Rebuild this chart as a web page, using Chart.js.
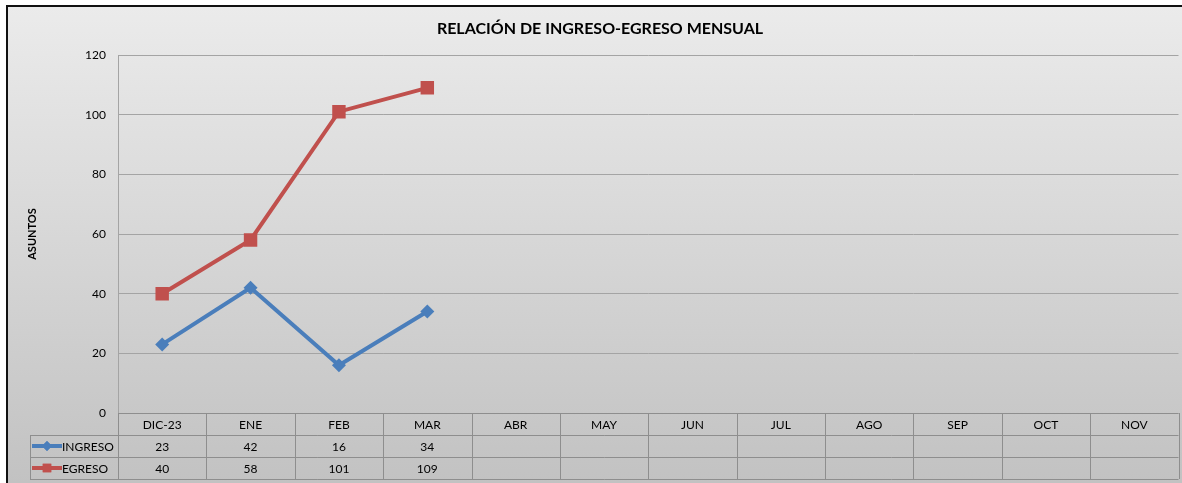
<!DOCTYPE html>
<html>
<head>
<meta charset="utf-8">
<script src="https://cdn.jsdelivr.net/npm/chart.js@4"></script>
<style>
  html, body { margin: 0; padding: 0; background: #fff; overflow: hidden; }
  #wrap { width: 1182px; height: 483px; overflow: hidden; }
  canvas { display: block; }
</style>
</head>
<body>
<div id="wrap"><canvas id="myChart" width="1188" height="483"></canvas></div>
<script>
var months = ['DIC-23','ENE','FEB','MAR','ABR','MAY','JUN','JUL','AGO','SEP','OCT','NOV'];
var ingreso = [23, 42, 16, 34, null, null, null, null, null, null, null, null];
var egreso = [40, 58, 101, 109, null, null, null, null, null, null, null, null];
var yTicks = [0, 20, 40, 60, 80, 100, 120];

var titleText = 'RELACIÓN DE INGRESO-EGRESO MENSUAL';
var blue = '#4A7EBB';
var red = '#C0504D';
var lineGray = '#8e8e8e';
var fontName = 'Lato, "Open Sans", sans-serif';

// background, frame and title
var backPlugin = {
  id: 'back',
  beforeDraw: function(chart) {
    var ctx = chart.ctx;
    ctx.save();
    var g = ctx.createLinearGradient(0, 7, 0, 483);
    g.addColorStop(0, '#ebebeb');
    g.addColorStop(1, '#c2c2c2');
    ctx.fillStyle = g;
    ctx.fillRect(8, 7, chart.width - 8, 476);
    ctx.strokeStyle = '#111';
    ctx.lineWidth = 2;
    ctx.beginPath();
    ctx.moveTo(7, 483);
    ctx.lineTo(7, 6);
    ctx.lineTo(chart.width, 6);
    ctx.stroke();
    ctx.fillStyle = '#000';
    ctx.font = 'bold 16px ' + fontName;
    ctx.textAlign = 'center';
    ctx.textBaseline = 'middle';
    ctx.fillText(titleText, 600, 29);
    ctx.restore();
  }
};

// data table under the plot
var tablePlugin = {
  id: 'dataTable',
  afterDraw: function(chart) {
    var ctx = chart.ctx;
    var x = chart.scales.x;
    var area = chart.chartArea;
    var colW = (area.right - area.left) / months.length;
    var rowH = 22;
    var top = area.bottom;
    var legendLeft = 30;
    ctx.save();
    ctx.strokeStyle = lineGray;
    ctx.lineWidth = 1;
    ctx.beginPath();
    ctx.moveTo(area.left, top + 0.5); ctx.lineTo(area.right, top + 0.5);
    for (var r = 1; r <= 3; r++) {
      var yy = Math.round(top + r * rowH) + 0.5;
      ctx.moveTo(legendLeft, yy); ctx.lineTo(area.right, yy);
    }
    for (var c = 0; c <= months.length; c++) {
      var xx = Math.round(area.left + c * colW) + 0.5;
      ctx.moveTo(xx, top); ctx.lineTo(xx, top + 3 * rowH);
    }
    ctx.moveTo(legendLeft + 0.5, top + rowH); ctx.lineTo(legendLeft + 0.5, top + 3 * rowH);
    ctx.stroke();

    ctx.fillStyle = '#000';
    ctx.font = '12px ' + fontName;
    ctx.textAlign = 'center';
    ctx.textBaseline = 'middle';
    months.forEach(function(m, i) {
      var cx = x.getPixelForValue(i);
      ctx.fillText(m, cx, top + rowH / 2 + 1);
      if (ingreso[i] != null) ctx.fillText(String(ingreso[i]), cx, top + rowH * 1.5 + 1);
      if (egreso[i] != null) ctx.fillText(String(egreso[i]), cx, top + rowH * 2.5 + 1);
    });

    // legend keys in the first column
    var keys = [
      {label: 'INGRESO', color: blue, style: 'rectRot', radius: 5},
      {label: 'EGRESO', color: red, style: 'rect', radius: 6}
    ];
    keys.forEach(function(k, j) {
      var cy = top + rowH * (j + 1.5);
      ctx.strokeStyle = k.color;
      ctx.lineWidth = 4;
      ctx.beginPath();
      ctx.moveTo(32, cy); ctx.lineTo(62, cy);
      ctx.stroke();
      ctx.fillStyle = k.color;
      Chart.helpers.drawPoint(ctx, {pointStyle: k.style, radius: k.radius, borderWidth: 0}, 47, cy);
      ctx.fill();
      ctx.fillStyle = '#000';
      ctx.textAlign = 'left';
      ctx.fillText(k.label, 62, cy + 1);
    });
    ctx.restore();
  }
};

var grapharea = document.getElementById('myChart').getContext('2d');
var mychart = new Chart(grapharea, {
  type: 'line',
  data: {
    labels: months,
    datasets: [{
      label: 'INGRESO', data: ingreso, borderColor: blue, backgroundColor: blue,
      borderWidth: 4, pointStyle: 'rectRot', pointRadius: 7, pointBorderWidth: 0, tension: 0, fill: false
    }, {
      label: 'EGRESO', data: egreso, borderColor: red, backgroundColor: red,
      borderWidth: 4, pointStyle: 'rect', pointRadius: 9.5, pointBorderWidth: 0, tension: 0, fill: false
    }]
  },
  options: {
    responsive: false,
    animation: false,
    layout: {padding: {left: 0, top: 55, right: 4, bottom: 70}},
    plugins: {legend: {display: false}, title: {display: false}, tooltip: {enabled: false}},
    scales: {
      x: {type: 'category', display: false, offset: true},
      y: {
        min: 0, max: 120,
        afterFit: function(s) { s.width = 118; },
        afterBuildTicks: function(s) { s.ticks = yTicks.map(function(v) { return {value: v}; }); },
        ticks: {color: '#000', padding: 12, font: {family: fontName, size: 12}},
        grid: {color: '#a4a4a4', lineWidth: 1, drawTicks: false},
        border: {display: true, color: '#a4a4a4'},
        title: {display: true, text: 'ASUNTOS', color: '#000',
          font: {family: fontName, size: 11, weight: 'bold'}, padding: {top: 26, bottom: 0}}
      }
    }
  },
  plugins: [backPlugin, tablePlugin]
});
</script>
</body>
</html>
